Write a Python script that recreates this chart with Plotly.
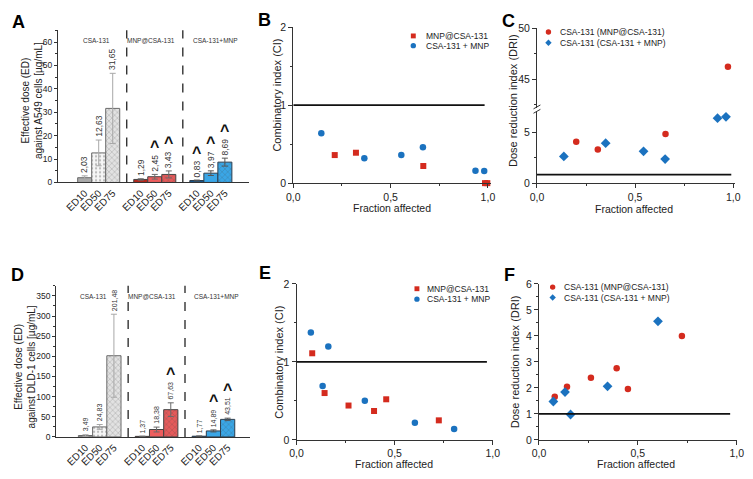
import plotly.graph_objects as go

# body margin is removed (post_script below), so the figure sits at (0, 0)
OFF = 0
W, H = 753, 479

# ---------------- data ----------------
groups = ["CSA-131", "MNP@CSA-131", "CSA-131+MNP"]
doses = ["ED10", "ED50", "ED75"]

a_vals = [[2.03, 12.63, 31.65], [1.29, 2.45, 3.43], [0.83, 3.97, 8.69]]
a_err = [[0.8, 5.5, 15.0], [0.3, 1.0, 1.5], [0.2, 1.0, 1.7]]
a_sig = [[0, 0, 0], [0, 1, 1], [1, 1, 1]]

d_vals = [[3.49, 24.83, 201.48], [1.37, 18.38, 67.63], [1.77, 14.89, 43.51]]
d_err = [[2.0, 6.0, 103.0], [0.5, 6.0, 17.0], [0.5, 2.5, 3.0]]
d_sig = [[0, 0, 0], [0, 0, 1], [0, 1, 1]]

b_red_x = [0.213, 0.322, 0.668, 0.985, 0.997]
b_red_y = [0.36, 0.39, 0.22, 0.0, 0.0]
b_blue_x = [0.144, 0.365, 0.555, 0.666, 0.936, 0.981]
b_blue_y = [0.64, 0.32, 0.36, 0.46, 0.16, 0.155]

c_red_x = [0.20, 0.31, 0.655, 0.973]
c_red_y = [4.1, 3.35, 4.87, 46.2]
c_blue_x = [0.137, 0.35, 0.543, 0.653, 0.92, 0.963]
c_blue_y = [2.65, 3.97, 3.16, 2.39, 6.45, 6.58]

e_red_x = [0.08, 0.143, 0.265, 0.395, 0.457, 0.725]
e_red_y = [1.11, 0.60, 0.44, 0.37, 0.52, 0.25]
e_blue_x = [0.073, 0.162, 0.133, 0.348, 0.603, 0.803]
e_blue_y = [1.375, 1.196, 0.69, 0.50, 0.22, 0.14]

f_red_x = [0.08, 0.142, 0.263, 0.393, 0.45, 0.723]
f_red_y = [1.66, 2.04, 2.39, 2.75, 1.96, 3.99]
f_blue_x = [0.073, 0.132, 0.16, 0.347, 0.602]
f_blue_y = [1.475, 1.84, 0.975, 2.06, 4.56]

ci_labels = ["MNP@CSA-131", "CSA-131 + MNP"]
dri_labels = ["CSA-131 (MNP@CSA-131)", "CSA-131 (CSA-131 + MNP)"]

# ---------------- style ----------------
FONT = "Liberation Sans, Arial, sans-serif"
RED = "#d42b1e"
BLUE = "#1b72bf"
AX = "#333333"
bar_colors = [["#ababab", "#f6f6f6", "#e2e2e2"],
              ["#b5271c", "#ee5e5e", "#e45a5a"],
              ["#17568c", "#3aa6e6", "#3aa6e6"]]
bar_patterns = [["", ".", "x"], ["", "", "x"], ["", "", "x"]]
bar_lines = ["#6a6a6a", "#444444", "#2d3d4d"]
err_colors = ["#a8a8a8", "#6a6a6a", "#555555"]


def px(x):
    return (x - OFF) / W


def py(y):
    return 1 - (y - OFF) / H


def dx(a, b):
    return [px(a), px(b)]


def dy(top, bot):
    return [py(bot), py(top)]


fig = go.Figure()
annotations = []
shapes = []


def fmt(v):
    return f"{v:.2f}".replace(".", ",")


def bar_panel(xa, ya, vals, errs, sigs, lab_size, grp_x):
    for g in range(3):
        xs = [g * 4 + j for j in range(3)]
        fig.add_trace(go.Bar(
            x=xs, y=vals[g], width=1.0, xaxis=xa, yaxis=ya, showlegend=False,
            marker=dict(color=bar_colors[g], line=dict(color=bar_lines[g], width=1),
                        pattern=dict(shape=bar_patterns[g], size=4, solidity=0.25,
                                     fgcolor="#9a9a9a" if g == 0 else "#555555",
                                     fgopacity=0.35)),
            error_y=dict(type="data", array=errs[g], color=err_colors[g],
                         thickness=1, width=3),
        ))
        for j in range(3):
            top = vals[g][j] + errs[g][j]
            lab = fmt(vals[g][j])
            annotations.append(dict(
                x=xs[j], y=top, xref=xa, yref=ya, text=lab, textangle=-90,
                showarrow=False, yanchor="bottom", xanchor="center", yshift=1,
                font=dict(size=lab_size, family=FONT, color="#333")))
            if sigs[g][j]:
                lw = lab_size * (0.556 * (len(lab) - 1) + 0.278) + 4
                annotations.append(dict(
                    x=xs[j], y=top, xref=xa, yref=ya, text="<b>^</b>",
                    showarrow=False, yanchor="bottom", xanchor="center",
                    yshift=lw - 3, font=dict(size=16, family=FONT, color="#111")))
        annotations.append(dict(
            x=grp_x[g], y=0.968, xref=xa, yref=ya + " domain", text=groups[g],
            showarrow=False, font=dict(size=6.5, family=FONT, color="#333")))
    for xv in [3, 7]:
        shapes.append(dict(type="line", xref=xa, yref=ya + " domain", x0=xv, x1=xv,
                           y0=0, y1=1, line=dict(color="#222", width=1.3, dash="dash")))


bar_panel("x", "y", a_vals, a_err, a_sig, 8.5, [0.86, 4.75, 9.3])
bar_panel("x4", "y4", d_vals, d_err, d_sig, 7, [0.55, 4.66, 9.19])


def scat(xa, ya, x, y, color, symbol, size):
    fig.add_trace(go.Scatter(x=x, y=y, xaxis=xa, yaxis=ya, mode="markers",
                             showlegend=False, cliponaxis=False,
                             marker=dict(color=color, symbol=symbol, size=size,
                                         line=dict(width=0))))


scat("x2", "y2", b_red_x, b_red_y, RED, "square", 6)
scat("x2", "y2", b_blue_x, b_blue_y, BLUE, "circle", 6.5)

BREAK = 40
cl = [(x, y) for x, y in zip(c_red_x, c_red_y) if y < BREAK]
cu = [(x, y) for x, y in zip(c_red_x, c_red_y) if y >= BREAK]
scat("x3", "y3", [p[0] for p in cl], [p[1] for p in cl], RED, "circle", 6.5)
scat("x3", "y7", [p[0] for p in cu], [p[1] for p in cu], RED, "circle", 6.5)
scat("x3", "y3", c_blue_x, c_blue_y, BLUE, "diamond", 7.5)

scat("x5", "y5", e_red_x, e_red_y, RED, "square", 6)
scat("x5", "y5", e_blue_x, e_blue_y, BLUE, "circle", 6.5)
scat("x6", "y6", f_red_x, f_red_y, RED, "circle", 6.5)
scat("x6", "y6", f_blue_x, f_blue_y, BLUE, "diamond", 7.5)

# reference lines
shapes.append(dict(type="line", xref="x2", yref="y2", x0=0, x1=0.983, y0=1, y1=1,
                   line=dict(color="#111", width=1.6)))
shapes.append(dict(type="line", xref="x3", yref="y3", x0=0, x1=0.99, y0=0.85, y1=0.85,
                   line=dict(color="#111", width=1.6)))
shapes.append(dict(type="line", xref="x5", yref="y5", x0=0, x1=0.97, y0=1, y1=1,
                   line=dict(color="#111", width=1.6)))
shapes.append(dict(type="line", xref="x6", yref="y6", x0=0, x1=0.967, y0=1, y1=1,
                   line=dict(color="#111", width=1.6)))

# axis break marks in C
for yy in [103.5, 108.0]:
    shapes.append(dict(type="line", xref="paper", yref="paper",
                       x0=px(536.5), x1=px(543.5), y0=py(yy + 2), y1=py(yy - 2),
                       line=dict(color="#333", width=1)))

tickfont_barx = dict(size=10, family=FONT, color="#222")
tickfont_bary = dict(size=8.5, family=FONT, color="#222")
tickfont_sc = dict(size=10.5, family=FONT, color="#222")


def bar_xaxis(dom, rng, anchor):
    return dict(domain=dom, range=rng, anchor=anchor, showline=True, linecolor=AX,
                linewidth=1, ticks="", showgrid=False, zeroline=False,
                tickvals=[g * 4 + j for g in range(3) for j in range(3)],
                ticktext=doses * 3, tickangle=-45, tickfont=tickfont_barx)


def bar_yaxis(dom, rng, anchor, dtick):
    return dict(domain=dom, range=rng, anchor=anchor, showline=True, linecolor=AX,
                linewidth=1, ticks="outside", ticklen=3, tickcolor=AX, dtick=dtick,
                showgrid=False, zeroline=False, tickfont=tickfont_bary,
                minor=dict(dtick=dtick / 2, ticks="outside", ticklen=2, tickcolor=AX))


def sc_xaxis(dom, rng, anchor):
    return dict(domain=dom, range=rng, anchor=anchor, showline=True, linecolor=AX,
                linewidth=1, ticks="outside", ticklen=4, tickcolor=AX,
                tickvals=[0, 0.5, 1.0], ticktext=["0,0", "0,5", "1,0"],
                showgrid=False, zeroline=False, tickfont=tickfont_sc,
                minor=dict(dtick=0.25, ticks="outside", ticklen=2, tickcolor=AX))


def sc_yaxis(dom, rng, anchor, dtick, minor):
    return dict(domain=dom, range=rng, anchor=anchor, showline=True, linecolor=AX,
                linewidth=1, ticks="outside", ticklen=4, tickcolor=AX, dtick=dtick,
                showgrid=False, zeroline=False, tickfont=tickfont_sc,
                minor=dict(dtick=minor, ticks="outside", ticklen=2, tickcolor=AX))


layout = dict(
    width=W, height=H, margin=dict(l=0, r=0, t=0, b=0),
    paper_bgcolor="white", plot_bgcolor="white", showlegend=False,
    font=dict(family=FONT, color="#222"),
    bargap=0, hovermode=False, dragmode=False,
    xaxis=bar_xaxis(dx(52, 247), [-1.9, 11.75], "y"),
    yaxis=bar_yaxis(dy(25, 181), [0, 65], "x", 10),
    xaxis4=bar_xaxis(dx(50, 248), [-2.07, 11.6], "y4"),
    yaxis4=bar_yaxis(dy(287, 442), [0, 375], "x4", 50),
    xaxis2=sc_xaxis(dx(291.7, 493), [0, 1.015], "y2"),
    yaxis2=sc_yaxis(dy(21.7, 181.7), [0, 2], "x2", 1, 0.5),
    xaxis3=sc_xaxis(dx(540, 742), [0, 1.01], "y3"),
    yaxis3=sc_yaxis(dy(108, 181.7), [0, 7.13], "x3", 5, 2.5),
    yaxis7=sc_yaxis(dy(22.7, 105), [42.13, 50], "x3", 5, 2.5),
    xaxis5=sc_xaxis(dx(295, 495), [0, 1.0], "y5"),
    yaxis5=sc_yaxis(dy(285, 445), [0, 2], "x5", 1, 0.5),
    xaxis6=sc_xaxis(dx(542, 743.5), [0, 1.0], "y6"),
    yaxis6=sc_yaxis(dy(285, 445), [0, 6], "x6", 1, 0.5),
)


def pa(text, x, y, size, angle=0, bold=False, color="#222"):
    annotations.append(dict(
        xref="paper", yref="paper", x=px(x), y=py(y),
        text=f"<b>{text}</b>" if bold else text,
        showarrow=False, textangle=angle, xanchor="center", yanchor="middle",
        font=dict(size=size, family=FONT, color=color)))


# panel letters
for lab, x, y in [("A", 12, 16), ("B", 262, 14), ("C", 511, 15),
                  ("D", 11, 276), ("E", 263, 274), ("F", 512, 276)]:
    pa(lab, x, y, 18, bold=True, color="#000")

# axis titles
pa("Effective dose (ED)<br>against A549 cells [µg/mL]", 25, 97, 10, angle=-90)
pa("Effective dose (ED)<br>against DLD-1 cells [µg/mL]", 18, 370, 10, angle=-90)
pa("Combinatory index (CI)", 275, 91, 11, angle=-90)
pa("Combinatory index (CI)", 277, 365, 11, angle=-90)
pa("Dose reduction index (DRI)", 515, 97, 11, angle=-90)
pa("Dose reduction index (DRI)", 517, 365, 11, angle=-90)
pa("Fraction affected", 392, 207, 10.5)
pa("Fraction affected", 639, 208, 10.5)
pa("Fraction affected", 394, 470, 10.5)
pa("Fraction affected", 641, 470, 10.5)


# manual legends
def legend(items, x_marker, x_text, y_rows):
    for (text, color, kind, size), yr in zip(items, y_rows):
        h = size / 2
        if kind == "square":
            shapes.append(dict(type="rect", xref="paper", yref="paper",
                               x0=px(x_marker - h), x1=px(x_marker + h),
                               y0=py(yr + h), y1=py(yr - h),
                               fillcolor=color, line=dict(width=0)))
        elif kind == "circle":
            shapes.append(dict(type="circle", xref="paper", yref="paper",
                               x0=px(x_marker - h), x1=px(x_marker + h),
                               y0=py(yr + h), y1=py(yr - h),
                               fillcolor=color, line=dict(width=0)))
        else:
            xs = [x_marker, x_marker + h, x_marker, x_marker - h]
            ys = [yr - h, yr, yr + h, yr]
            path = "M " + " L ".join(f"{px(a)},{py(b)}" for a, b in zip(xs, ys)) + " Z"
            shapes.append(dict(type="path", xref="paper", yref="paper", path=path,
                               fillcolor=color, line=dict(width=0)))
        annotations.append(dict(xref="paper", yref="paper", x=px(x_text), y=py(yr),
                                text=text, showarrow=False, xanchor="left", yanchor="middle",
                                font=dict(size=8.5, family=FONT, color="#222")))


legend([(ci_labels[0], RED, "square", 5), (ci_labels[1], BLUE, "circle", 5.5)],
       414, 424.5, [30.7, 40.7])
legend([(dri_labels[0], RED, "circle", 5.5), (dri_labels[1], BLUE, "diamond", 6.5)],
       551.7, 561.5, [26.7, 37.7])
legend([(ci_labels[0], RED, "square", 5), (ci_labels[1], BLUE, "circle", 5.5)],
       417.7, 425.5, [290, 300.7])
legend([(dri_labels[0], RED, "circle", 5.5), (dri_labels[1], BLUE, "diamond", 6.5)],
       556, 566, [288.3, 299])

layout["annotations"] = annotations
layout["shapes"] = shapes
fig.update_layout(**layout)
fig.write_html("out.html", config={"displayModeBar": False, "staticPlot": True},
               post_script="document.body.style.margin='0px';document.body.style.overflow='hidden';")
